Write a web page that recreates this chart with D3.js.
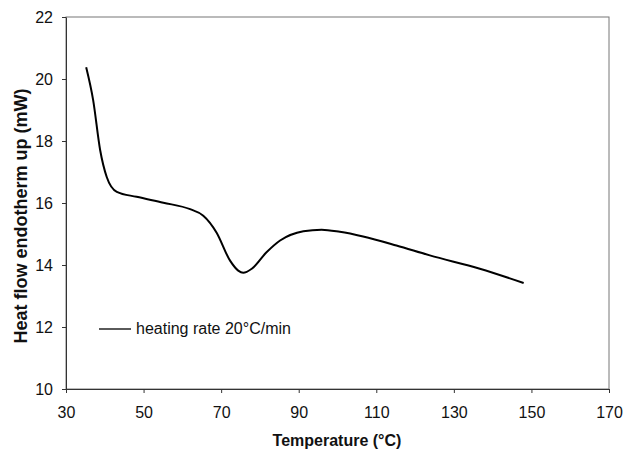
<!DOCTYPE html>
<html><head><meta charset="utf-8">
<script src="https://cdn.jsdelivr.net/npm/d3@7"></script>
<style>body{margin:0;background:#fff}svg{display:block}</style>
</head><body>
<script>
const temperature = [35.2, 37.0, 38.8, 40.5, 43.1, 48.2, 55.1, 62.0, 65.4, 68.8, 72.3, 74.4, 75.7, 77.9, 81.7, 85.2, 91.2, 95.9, 100.6, 106.6, 115.2, 123.8, 136.7, 148.0];
const heatFlow =    [20.38, 19.32, 17.71, 16.84, 16.36, 16.2, 16.01, 15.8, 15.59, 15.05, 14.14, 13.82, 13.75, 13.88, 14.41, 14.79, 15.09, 15.14, 15.07, 14.92, 14.63, 14.31, 13.88, 13.42];
const xTicks = [30, 50, 70, 90, 110, 130, 150, 170];
const yTicks = [10, 12, 14, 16, 18, 20, 22];
const seriesName = "heating rate 20°C/min";

const W = 625, H = 449;
const m = {l: 66, r: 609, t: 17, b: 389};
const FONT = "'Liberation Sans', Arial, sans-serif";
const svg = d3.select("body").append("svg").attr("width", W).attr("height", H)
  .style("font-family", FONT);
const x = d3.scaleLinear().domain([30, 170]).range([m.l, m.r]);
const y = d3.scaleLinear().domain([10, 22]).range([m.b, m.t]);

// frame
svg.append("rect").attr("x", m.l).attr("y", m.t).attr("width", m.r - m.l).attr("height", m.b - m.t)
  .attr("fill", "none").attr("stroke", "#777").attr("stroke-width", 1);

const xa = svg.append("g").attr("transform", `translate(0,${m.b})`)
  .call(d3.axisBottom(x).tickValues(xTicks).tickSize(4).tickSizeOuter(0).tickPadding(14));
const ya = svg.append("g").attr("transform", `translate(${m.l},0)`)
  .call(d3.axisLeft(y).tickValues(yTicks).tickSize(4).tickSizeOuter(0).tickPadding(9));
[xa, ya].forEach(g => {
  g.selectAll("text").attr("font-size", 16).attr("fill", "#111").style("font-family", FONT);
  g.select(".domain").attr("stroke", "#333");
  g.selectAll(".tick line").attr("stroke", "#333");
});

const line = d3.line().x((d, i) => x(temperature[i])).y(d => y(d)).curve(d3.curveMonotoneX);
svg.append("path").datum(heatFlow).attr("d", line).attr("fill", "none")
  .attr("stroke", "#000").attr("stroke-width", 2);

// legend
svg.append("line").attr("x1", 99).attr("x2", 131).attr("y1", 329).attr("y2", 329)
  .attr("stroke", "#000").attr("stroke-width", 1.3);
svg.append("text").attr("x", 136).attr("y", 334).attr("font-size", 16).attr("fill", "#111").text(seriesName);

// axis titles
svg.append("text").attr("x", 337).attr("y", 446).attr("text-anchor", "middle")
  .attr("font-size", 16).attr("font-weight", "bold").attr("fill", "#111").text("Temperature (°C)");
svg.append("text").attr("transform", `translate(27,216) rotate(-90)`).attr("text-anchor", "middle")
  .attr("font-size", 18).attr("font-weight", "bold").attr("fill", "#111").text("Heat flow endotherm up (mW)");
</script>
</body></html>
